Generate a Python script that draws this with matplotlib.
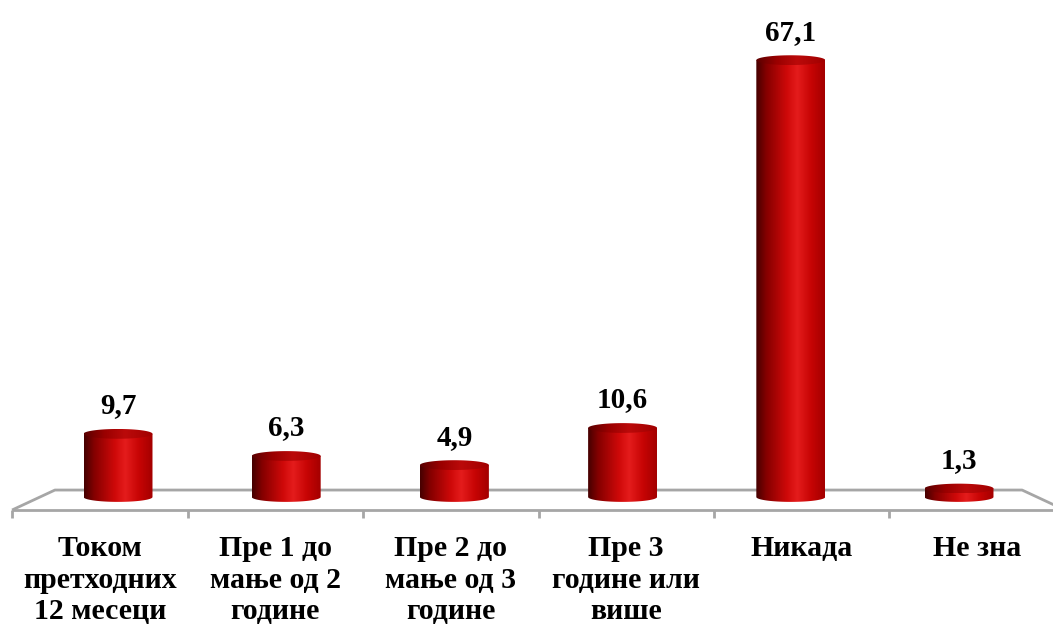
import numpy as np
import matplotlib
matplotlib.use("Agg")
import matplotlib.pyplot as plt
from matplotlib.colors import LinearSegmentedColormap
from matplotlib.path import Path

# data
categories = ["Током\nпретходних\n12 месеци", "Пре 1 до\nмање од 2\nгодине",
              "Пре 2 до\nмање од 3\nгодине", "Пре 3\nгодине или\nвише",
              "Никада", "Не зна"]
values = [9.7, 6.3, 4.9, 10.6, 67.1, 1.3]

plt.rcParams['font.family'] = ['Liberation Serif', 'DejaVu Serif']

fig = plt.figure(figsize=(10.53, 6.25), dpi=100)
ax = fig.add_axes([0, 0, 1, 1])

# cylinder shading
body_cmap = LinearSegmentedColormap.from_list(
    "body", [(0.0, "#450000"), (0.15, "#850000"), (0.45, "#cf0909"),
             (0.6, "#e41c1c"), (0.8, "#c70404"), (1.0, "#a30000")])
top_cmap = LinearSegmentedColormap.from_list(
    "top", [(0.0, "#5a0000"), (0.3, "#9a0000"), (0.6, "#bb0a0a"), (1.0, "#a00000")])

bar_w = 0.41     # in category units
ell_h = 1.5      # ellipse height in value units
grad = np.linspace(0, 1, 256).reshape(1, -1)

# floor (perspective plane)
back_l, back_r, back_y = -0.375, 5.375, 1.07
front_l, front_r, front_y = -0.63, 5.63, -2.0
floor_kw = dict(color="#a6a6a6", lw=2, zorder=1, solid_capstyle="butt")
ax.plot([front_l, back_l, back_r, front_r], [front_y, back_y, back_y, front_y], **floor_kw)
ax.plot([front_l, front_r], [front_y, front_y], **floor_kw)
step = (front_r - front_l) / len(categories)
for k in range(len(categories) + 1):
    tx = front_l + k * step
    ax.plot([tx, tx], [front_y, front_y - 1.25], **floor_kw)

t = np.linspace(np.pi, 2 * np.pi, 60)
for i, v in enumerate(values):
    x0, x1 = i - bar_w / 2, i + bar_w / 2
    # body: rectangle + lower half of bottom ellipse
    pts = [(x1, v), (x0, v)] + list(zip(i + bar_w / 2 * np.cos(t), ell_h / 2 * np.sin(t)))
    pts.append((x1, v))
    body = ax.imshow(grad, cmap=body_cmap, extent=[x0, x1, -ell_h / 2, v],
                     aspect="auto", interpolation="bicubic", zorder=3)
    body.set_clip_path(Path(pts, closed=True), ax.transData)
    # top ellipse
    tt = np.linspace(0, 2 * np.pi, 100)
    top_pts = list(zip(i + bar_w / 2 * np.cos(tt), v + ell_h / 2 * np.sin(tt)))
    top = ax.imshow(grad, cmap=top_cmap, extent=[x0, x1, v - ell_h / 2, v + ell_h / 2],
                    aspect="auto", interpolation="bicubic", zorder=4)
    top.set_clip_path(Path(top_pts, closed=True), ax.transData)

    ax.text(i, v + ell_h / 2 + 2.4, f"{v:.1f}".replace(".", ","), ha="center",
            va="baseline", fontsize=21, fontweight="bold", zorder=5)

# category labels under the front edge
for k, lab in enumerate(categories):
    ax.text(front_l + (k + 0.5) * step, -5.9, lab, ha="center", va="top",
            fontsize=21.5, fontweight="bold", linespacing=1.2)

ax.set_xlim(-0.7016, 5.5589)
ax.set_ylim(-19.66, 76.34)
ax.axis("off")

fig.savefig("out.png", dpi=100)
